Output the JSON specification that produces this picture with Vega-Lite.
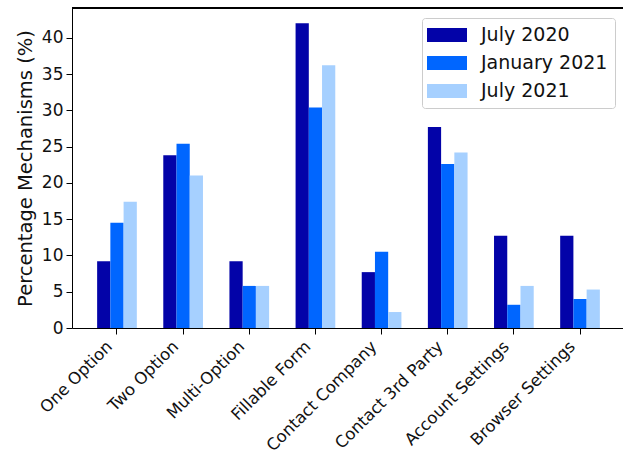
{
  "$schema": "https://vega.github.io/schema/vega-lite/v6.json",
  "width": 553,
  "height": 320,
  "autosize": {"type": "none"},
  "padding": {"left": 72, "top": 8, "right": 0, "bottom": 126},
  "config": {
    "font": "DejaVu Sans",
    "view": {"stroke": null},
    "axis": {"domainColor": "black", "tickColor": "black", "labelColor": "#111", "titleColor": "#111", "grid": false}
  },
  "data": {
    "values": [
      {"category": "One Option", "period": "July 2020", "value": 9.2},
      {"category": "One Option", "period": "January 2021", "value": 14.5},
      {"category": "One Option", "period": "July 2021", "value": 17.4},
      {"category": "Two Option", "period": "July 2020", "value": 23.8},
      {"category": "Two Option", "period": "January 2021", "value": 25.4},
      {"category": "Two Option", "period": "July 2021", "value": 21.0},
      {"category": "Multi-Option", "period": "July 2020", "value": 9.2},
      {"category": "Multi-Option", "period": "January 2021", "value": 5.8},
      {"category": "Multi-Option", "period": "July 2021", "value": 5.8},
      {"category": "Fillable Form", "period": "July 2020", "value": 42.0},
      {"category": "Fillable Form", "period": "January 2021", "value": 30.4},
      {"category": "Fillable Form", "period": "July 2021", "value": 36.2},
      {"category": "Contact Company", "period": "July 2020", "value": 7.7},
      {"category": "Contact Company", "period": "January 2021", "value": 10.5},
      {"category": "Contact Company", "period": "July 2021", "value": 2.2},
      {"category": "Contact 3rd Party", "period": "July 2020", "value": 27.7},
      {"category": "Contact 3rd Party", "period": "January 2021", "value": 22.6},
      {"category": "Contact 3rd Party", "period": "July 2021", "value": 24.2},
      {"category": "Account Settings", "period": "July 2020", "value": 12.7},
      {"category": "Account Settings", "period": "January 2021", "value": 3.2},
      {"category": "Account Settings", "period": "July 2021", "value": 5.8},
      {"category": "Browser Settings", "period": "July 2020", "value": 12.7},
      {"category": "Browser Settings", "period": "January 2021", "value": 4.0},
      {"category": "Browser Settings", "period": "July 2021", "value": 5.3}
    ]
  },
  "layer": [
    {
      "mark": {"type": "bar"},
      "encoding": {
        "x": {
          "field": "category",
          "type": "nominal",
          "sort": null,
          "scale": {"paddingInner": 0.4, "paddingOuter": 0.38},
          "axis": {
            "title": null,
            "labelAngle": -45,
            "labelAlign": "right",
            "labelBaseline": "top",
            "labelFontSize": 16.5,
            "labelPadding": 4,
            "labelOffset": -13,
            "labelOverlap": false,
            "labelBound": false,
            "tickSize": 6,
            "domain": true
          }
        },
        "xOffset": {
          "field": "period",
          "type": "nominal",
          "sort": ["July 2020", "January 2021", "July 2021"],
          "scale": {"paddingInner": 0, "paddingOuter": 0}
        },
        "y": {
          "field": "value",
          "type": "quantitative",
          "scale": {"domain": [0, 44.1], "nice": false},
          "axis": {
            "title": "Percentage Mechanisms (%)",
            "values": [0, 5, 10, 15, 20, 25, 30, 35, 40],
            "tickCount": 9,
            "labelFontSize": 17,
            "labelOverlap": false,
            "titleFontSize": 19.5,
            "titleFontWeight": "normal",
            "tickSize": 6,
            "labelPadding": 3,
            "titlePadding": 6,
            "domain": true
          }
        },
        "color": {
          "field": "period",
          "type": "nominal",
          "sort": ["July 2020", "January 2021", "July 2021"],
          "scale": {"domain": ["July 2020", "January 2021", "July 2021"], "range": ["#0303a8", "#0066ff", "#a6d0ff"]},
          "legend": {
            "title": null,
            "orient": "top-right",
            "offset": 10,
            "labelFontSize": 19,
            "labelColor": "#111",
            "symbolType": "M-2,-0.7H2V0.7H-2Z",
            "symbolSize": 400,
            "symbolStrokeWidth": 0,
            "symbolOpacity": 1,
            "symbolOffset": 8,
            "labelOffset": 24,
            "rowPadding": 8,
            "padding": 7,
            "strokeColor": "#cccccc",
            "fillColor": "white",
            "cornerRadius": 3
          }
        }
      }
    },
    {
      "mark": {"type": "rule", "color": "black", "strokeWidth": 1},
      "encoding": {
        "y": {
          "datum": 44.1,
          "type": "quantitative",
          "axis": {
            "title": "Percentage Mechanisms (%)",
            "values": [0, 5, 10, 15, 20, 25, 30, 35, 40],
            "tickCount": 9,
            "labelFontSize": 17,
            "labelOverlap": false,
            "titleFontSize": 19.5,
            "titleFontWeight": "normal",
            "tickSize": 6,
            "labelPadding": 3,
            "titlePadding": 6,
            "domain": true
          }
        }
      }
    }
  ]
}
